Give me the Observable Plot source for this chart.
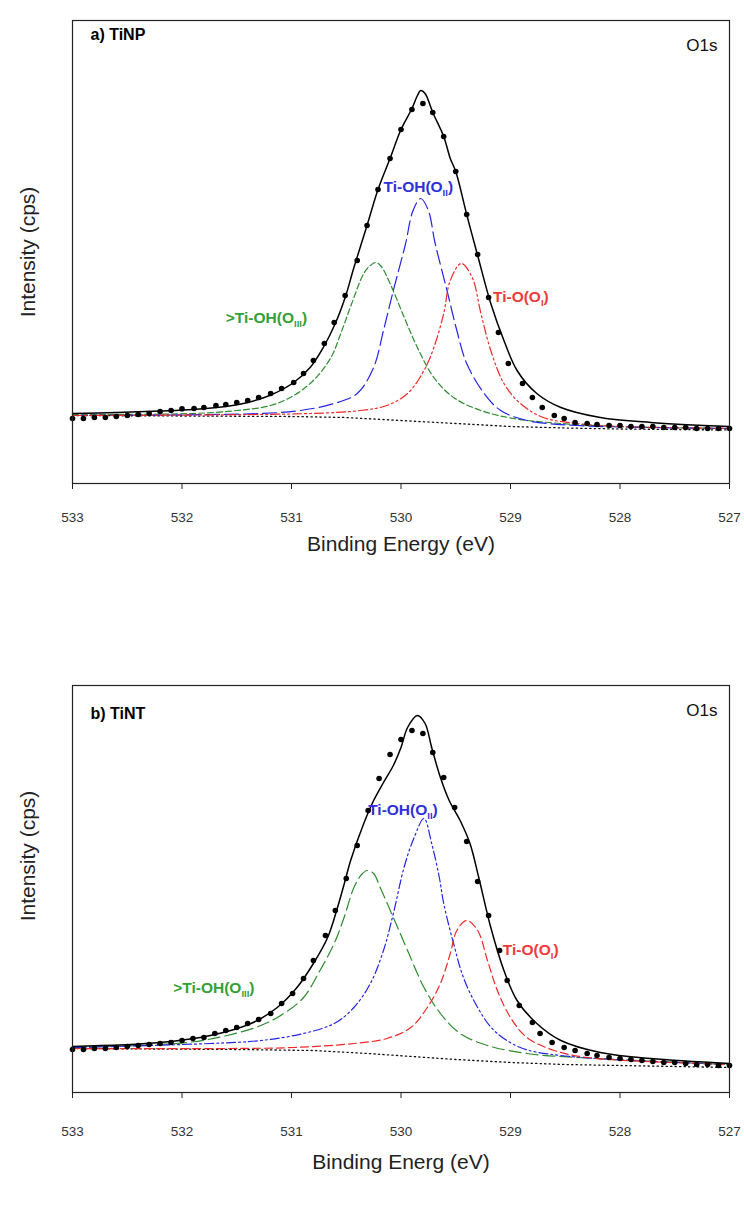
<!DOCTYPE html>
<html><head><meta charset="utf-8">
<script src="https://cdn.jsdelivr.net/npm/d3@7"></script>
<script src="https://cdn.jsdelivr.net/npm/@observablehq/plot@0.6"></script>
<style>
body{margin:0;background:#fff;}
#chart{width:744px;}
svg{display:block;}
</style></head><body><div id="chart"></div>
<script>
// ---------- data (binding energy eV, intensity a.u.) ----------
const xTicks = [533, 532, 531, 530, 529, 528, 527];

// Panel a) TiNP
const aFit = [[533.0,70],[532.6,71],[532.2,72.5],[531.9,74],[531.6,77],[531.44,80],[531.2,88],[530.98,101],[530.83,116],[530.71,136],[530.6,160],[530.51,186],[530.43,216],[530.31,258],[530.21,294],[530.1,325],[530.0,354],[529.9,375],[529.85,388],[529.82,393],[529.78,390],[529.71,371],[529.61,347],[529.55,325],[529.5,312],[529.4,269],[529.3,228],[529.18,180],[529.06,143],[528.94,113],[528.76,90],[528.54,76],[528.18,66],[527.72,61],[527.0,57]];
const aPts = [[533.0,65],[532.9,65],[532.8,66],[532.7,66],[532.6,67],[532.5,68],[532.4,69],[532.3,70],[532.2,72],[532.1,73],[532.0,74.7],[531.89,75],[531.8,76],[531.69,78],[531.6,79],[531.5,81],[531.4,83],[531.3,86],[531.19,90],[531.09,95],[530.98,101],[530.89,110],[530.8,123],[530.7,140],[530.61,161],[530.51,188],[530.4,223],[530.31,258],[530.21,294],[530.1,325],[530.0,354],[529.9,374],[529.8,380],[529.71,371],[529.61,347],[529.5,312],[529.4,269],[529.3,229],[529.2,186],[529.11,151],[529.02,120],[528.89,100],[528.8,86],[528.71,76],[528.6,68],[528.51,65],[528.41,61],[528.3,60],[528.21,59],[528.1,58],[528.0,58],[527.9,57],[527.8,57],[527.7,57],[527.6,56],[527.5,56],[527.4,56],[527.3,55],[527.2,55],[527.1,55],[527.0,55]];
const aOIII = [[533.0,69],[531.9,70],[531.5,73],[531.19,78],[530.98,88],[530.8,103],[530.64,126],[530.54,153],[530.45,180],[530.34,210],[530.28,218],[530.23,221],[530.18,217],[530.1,200],[529.97,166],[529.85,136],[529.7,106],[529.52,86],[529.27,73],[528.97,65],[528.54,60],[528.0,57],[527.0,55]];
const aOII = [[533.0,68],[531.28,70],[530.92,73],[530.61,80],[530.4,90],[530.25,116],[530.16,153],[530.07,193],[529.96,239],[529.89,273],[529.82,285],[529.75,273],[529.69,241],[529.58,193],[529.49,153],[529.4,120],[529.24,90],[529.09,73],[528.85,63],[528.39,58],[527.0,55]];
const aOI = [[533.0,68],[530.83,70],[530.37,73],[530.13,78],[529.94,90],[529.79,113],[529.7,136],[529.61,170],[529.55,203],[529.45,220],[529.35,206],[529.27,170],[529.18,133],[529.06,100],[528.91,80],[528.7,66],[528.39,60],[528.0,57],[527.0,55]];
const aBase = [[533.0,68],[531.0,67],[530.5,66],[530.0,63],[529.5,60],[529.0,57],[528.5,55.5],[528.0,54.5],[527.0,53.5]];

// Panel b) TiNT
const bFit = [[533.0,54],[532.2,58],[531.74,65],[531.37,77],[531.13,93],[530.95,113],[530.8,137],[530.67,163],[530.58,193],[530.51,220],[530.46,240],[530.34,277],[530.25,300],[530.16,318],[530.07,335],[530.0,353],[529.94,373],[529.85,385],[529.78,377],[529.72,353],[529.64,323],[529.56,300],[529.46,280],[529.37,257],[529.29,223],[529.18,173],[529.06,130],[528.94,100],[528.76,77],[528.54,60],[528.18,48],[527.72,42],[527.0,37]];
const bPts = [[533.0,51],[532.9,51],[532.8,52],[532.7,52],[532.6,53],[532.5,54],[532.4,55],[532.3,56],[532.2,57],[532.1,58],[532.0,60],[531.9,62],[531.8,63],[531.7,67],[531.6,70],[531.5,73],[531.4,77],[531.3,81],[531.19,87],[531.09,97],[530.99,107],[530.89,122],[530.8,140],[530.69,165],[530.6,190],[530.5,222],[530.4,255],[530.3,290],[530.2,322],[530.1,346],[530.0,361],[529.9,370],[529.8,367],[529.71,348],[529.61,323],[529.51,293],[529.4,259],[529.3,219],[529.2,185],[529.1,150],[529.03,120],[528.92,95],[528.8,78],[528.73,67],[528.62,58],[528.51,53],[528.41,50],[528.3,47],[528.21,45],[528.1,43],[528.0,42],[527.9,41],[527.8,40],[527.7,39],[527.6,38],[527.5,38],[527.4,37],[527.3,36],[527.2,36],[527.1,35],[527.0,35]];
const bOIII = [[533.0,53],[531.95,58],[531.59,65],[531.28,75],[531.07,87],[530.89,103],[530.74,130],[530.61,157],[530.52,183],[530.43,213],[530.36,226],[530.31,230],[530.25,227],[530.19,213],[530.07,183],[529.94,150],[529.79,113],[529.64,87],[529.46,67],[529.21,55],[528.85,47],[528.39,43],[527.0,36]];
const bOII = [[533.0,53],[531.74,57],[531.28,60],[530.89,67],[530.61,77],[530.43,93],[530.28,117],[530.16,150],[530.07,187],[529.97,234],[529.88,263],[529.79,282],[529.72,257],[529.65,223],[529.61,197],[529.52,157],[529.43,123],[529.3,93],[529.15,70],[528.91,53],[528.54,45],[527.0,36]];
const bOI = [[533.0,52],[531.59,52],[530.98,53],[530.43,57],[530.13,62],[529.91,73],[529.76,93],[529.64,117],[529.55,147],[529.49,170],[529.4,180],[529.3,170],[529.21,140],[529.12,110],[529.0,83],[528.85,63],[528.6,50],[528.3,43],[527.0,36]];
const bBase = [[533.0,52],[531.5,51],[530.8,50],[530.3,47],[529.9,44],[529.5,41],[529.0,38],[528.5,36],[528.0,35],[527.0,33]];

const labelTexts = [">Ti-OH(O_III)", "Ti-OH(O_II)", "Ti-O(O_I)"];
const panelTitles = ["a) TiNP", "b) TiNT"];
const coreLevel = "O1s";
const xTitles = ["Binding Energy (eV)", "Binding Energ (eV)"];
const yTitle = "Intensity (cps)";

// ---------- drawing ----------
const GREEN = "#2e8b2e", BLUE = "#2424e6", RED = "#f02828";
const LGREEN = "#35a035", LBLUE = "#3030d8", LRED = "#f03a3a";
const font = "'Liberation Sans', Arial, sans-serif";

function panel(cfg) {
  const comp = (data, color, dash) => Plot.line(data, {x: d => d[0], y: d => d[1], stroke: color, strokeWidth: 1.2, strokeDasharray: dash, curve: "catmull-rom"});
  const lab = (i, color) => Plot.text([labelTexts[i]], {x: cfg.lab[i][0], y: cfg.lab[i][1], text: d => d, fill: color, fontSize: 15.5, fontWeight: "bold", textAnchor: "start"});
  return Plot.plot({
    width: 744, height: cfg.height,
    marginLeft: 72, marginRight: 15, marginTop: cfg.mt, marginBottom: cfg.mb,
    style: {fontFamily: font, background: "#fff", color: "#111"},
    x: {domain: [533, 527], ticks: xTicks, tickFormat: d => String(d)},
    y: {domain: cfg.ydom, axis: null},
    marks: [
      Plot.line(cfg.base, {x: d => d[0], y: d => d[1], stroke: "#111", strokeWidth: 1.3, strokeDasharray: "1.3,3.2"}),
      comp(cfg.oiii, GREEN, cfg.dashIII),
      comp(cfg.oii, BLUE, cfg.dashII),
      comp(cfg.oi, RED, cfg.dashI),
      Plot.line(cfg.fit, {x: d => d[0], y: d => d[1], stroke: "#000", strokeWidth: 1.5, curve: "catmull-rom"}),
      Plot.dot(cfg.pts, {x: d => d[0], y: d => d[1], r: 2.8, fill: "#000", stroke: "none"}),
      lab(0, LGREEN), lab(1, LBLUE), lab(2, LRED),
      Plot.text([cfg.title], {frameAnchor: "top-left", dx: 18, dy: cfg.titleDy, fontSize: 16, fontWeight: "bold", textAnchor: "start", fill: "#000"}),
      Plot.text([coreLevel], {frameAnchor: "top-right", dx: -12, dy: cfg.o1sDy, fontSize: 17, textAnchor: "end", fill: "#111"}),
      Plot.frame({stroke: "#222", strokeWidth: 1.2}),
      Plot.axisX({ticks: xTicks, tickSize: 6, tickPadding: cfg.tickPad, label: null, fontSize: 13.5, tickFormat: d => String(d), stroke: "#222", fill: "#333"}),
      Plot.text([cfg.xTitle], {frameAnchor: "bottom", dy: cfg.xTitleDy, fontSize: 21, fill: "#222"}),
      Plot.text([yTitle], {frameAnchor: "left", dx: -44, dy: cfg.yTitleDy, rotate: -90, textAnchor: "middle", fontSize: 21, fill: "#222"})
    ]
  });
}

function subscripts(svg) {
  svg.querySelectorAll("text").forEach(t => {
    const s = t.textContent;
    const m = s.match(/^(.*)_([IV]+)\)$/);
    if (!m) return;
    t.textContent = "";
    const ns = "http://www.w3.org/2000/svg";
    const a = document.createElementNS(ns, "tspan"); a.textContent = m[1]; t.appendChild(a);
    const b = document.createElementNS(ns, "tspan"); b.textContent = m[2]; b.setAttribute("font-size", "9.5"); b.setAttribute("dy", "4"); t.appendChild(b);
    const c = document.createElementNS(ns, "tspan"); c.textContent = ")"; c.setAttribute("dy", "-4"); t.appendChild(c);
  });
}

// panel a: frame 20..483 ; values are measured against a bottom reference of 483
const A = panel({height: 620, mt: 20, mb: 137, ydom: [0, 463], base: aBase, oiii: aOIII, oii: aOII, oi: aOI, fit: aFit, pts: aPts,
  dashIII: "6,3", dashII: "14,5", dashI: "9,3,2,3,2,3",
  lab: [[531.60, 165], [530.16, 296], [529.16, 186]], title: panelTitles[0], titleDy: 8, o1sDy: 18,
  tickPad: 23, xTitle: xTitles[0], xTitleDy: 67, yTitleDy: 0});
// panel b: frame 685..1092 (65..472 inside the svg) ; values measured against 1100
const B = panel({height: 585, mt: 65, mb: 113, ydom: [8, 415], base: bBase, oiii: bOIII, oii: bOII, oi: bOI, fit: bFit, pts: bPts,
  dashIII: "12,5", dashII: "9,3,2,3,2,3", dashI: "8,4",
  lab: [[532.08, 112], [530.30, 290], [529.07, 150]], title: panelTitles[1], titleDy: 22, o1sDy: 18,
  tickPad: 28, xTitle: xTitles[1], xTitleDy: 76, yTitleDy: -33});
[A, B].forEach(s => { subscripts(s); document.getElementById("chart").appendChild(s); });
</script></body></html>
